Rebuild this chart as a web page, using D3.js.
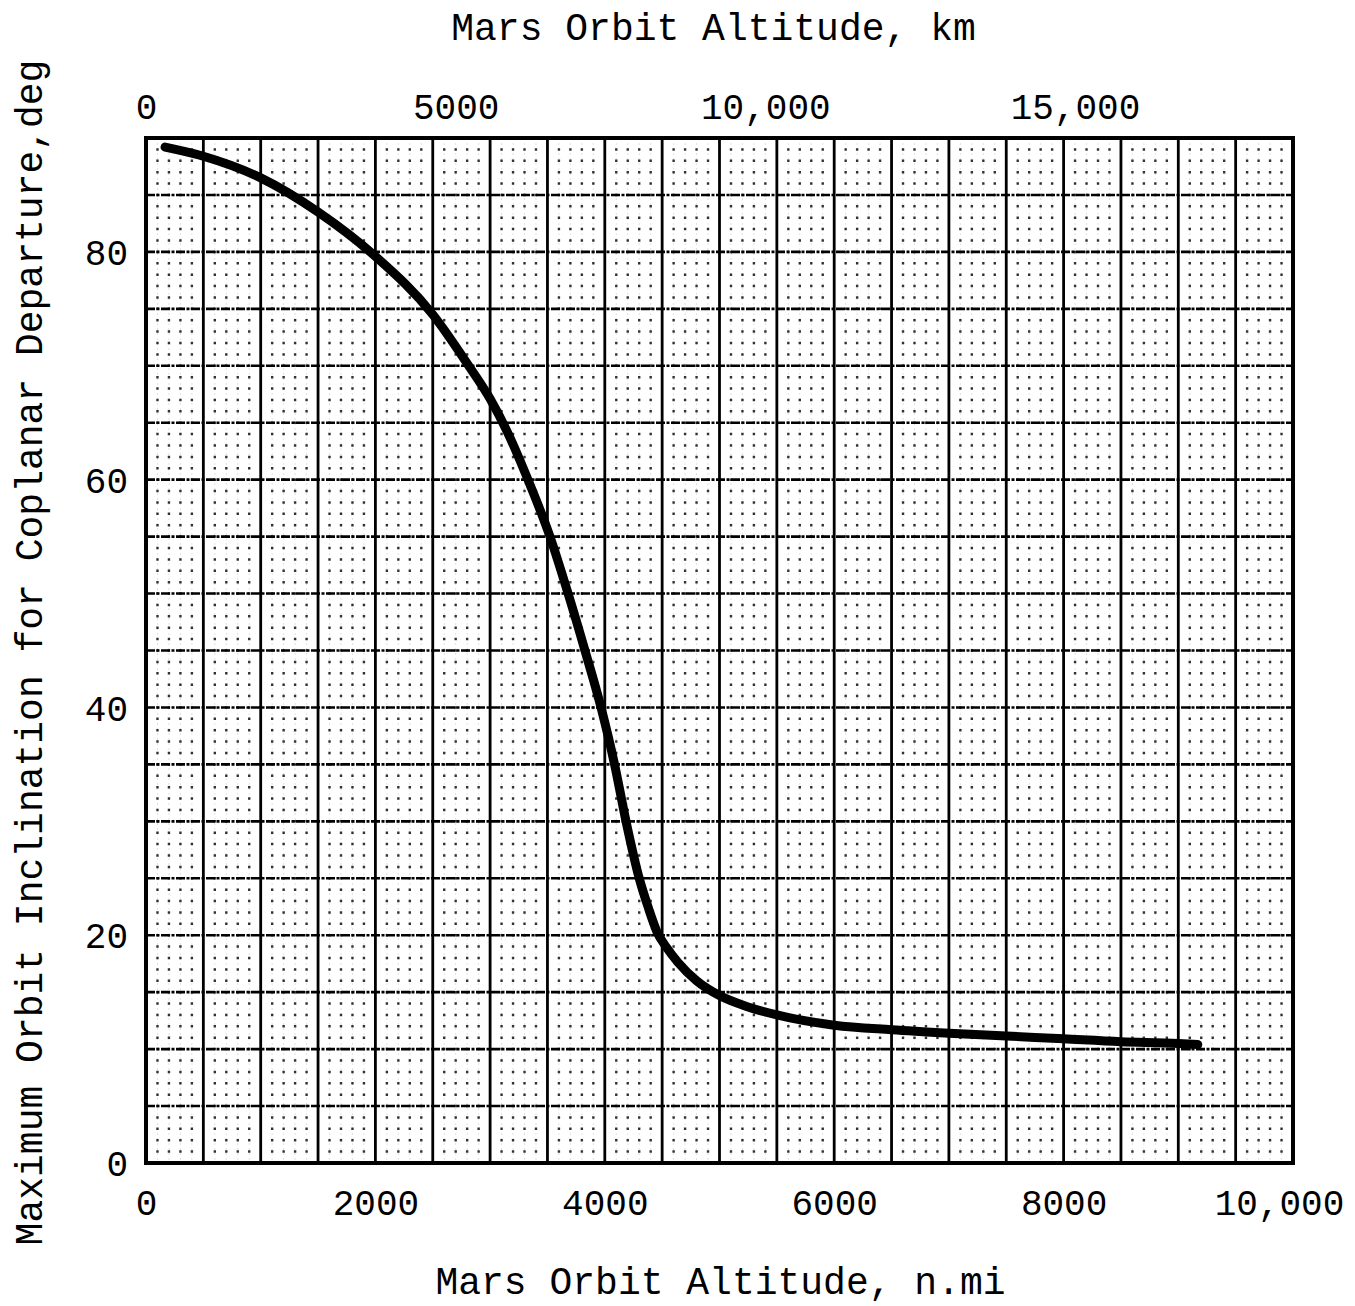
<!DOCTYPE html>
<html>
<head>
<meta charset="utf-8">
<script src="https://cdn.jsdelivr.net/npm/d3@7"></script>
<style>
  html, body { margin: 0; padding: 0; background: #fff; }
  svg { display: block; }
  text { font-family: "Liberation Mono", "DejaVu Sans Mono", monospace; fill: #000; }
</style>
</head>
<body>
<svg id="chart" width="1355" height="1306"></svg>
<script>
// Maximum orbit inclination for coplanar departure vs. Mars orbit altitude
const altitudeNmi = [166, 500, 1000, 1500, 2000, 2500, 2800, 3000, 3150, 3330, 3522, 3680,
  3827, 3967, 4085, 4185, 4300, 4380, 4455, 4540, 4640, 4800, 5000, 5250, 5500, 6000, 6500, 7000, 7500, 8000, 8500, 9000, 9170];
const inclinationDeg = [89.2, 88.4, 86.5, 83.5, 79.6, 74.5, 70.2, 67.1, 64.2, 60.0, 55.0, 50.0,
  45.0, 40.0, 35.0, 30.0, 25.0, 22.4, 20.3, 18.9, 17.6, 16.0, 14.7, 13.7, 13.0, 12.1, 11.7, 11.4, 11.15, 10.9, 10.65, 10.5, 10.4];

const bottomTicks = [0, 2000, 4000, 6000, 8000, 10000];
const bottomTickLabels = ["0", "2000", "4000", "6000", "8000", "10,000"];
const topTicksKm = [0, 5000, 10000, 15000];
const topTickLabels = ["0", "5000", "10,000", "15,000"];
const leftTicks = [0, 20, 40, 60, 80];
const leftTickLabels = ["0", "20", "40", "60", "80"];

const NMI_TO_KM = 1.852;
const xMax = 10000, yMax = 90;

const svg = d3.select("#chart");
const L = 146, R = 1293, T = 138, B = 1163;

const x = d3.scaleLinear().domain([0, xMax]).range([L, R]);
const xKm = d3.scaleLinear().domain([0, xMax * NMI_TO_KM]).range([L, R]);
const y = d3.scaleLinear().domain([0, yMax]).range([B, T]);

const grid = svg.append("g");

// fine dotted graph-paper grid: 100 n.mi by 1 deg
const fineX = d3.range(100, xMax, 100).filter(v => v % 500 !== 0);
const degStep = y(0) - y(1);
grid.selectAll("line.faint").data(fineX).join("line")
  .attr("x1", d => x(d)).attr("x2", d => x(d))
  .attr("y1", y(yMax)).attr("y2", y(0))
  .attr("stroke", "#000").attr("stroke-opacity", 0.12).attr("stroke-width", 1)
  .attr("stroke-dasharray", "2,3");
grid.selectAll("line.dots").data(fineX).join("line")
  .attr("x1", d => x(d)).attr("x2", d => x(d))
  .attr("y1", y(yMax)).attr("y2", y(0))
  .attr("stroke", "#000").attr("stroke-opacity", 0.8).attr("stroke-width", 2.4)
  .attr("stroke-dasharray", `2.5,${degStep - 2.5}`)
  .attr("stroke-dashoffset", 1.25);

// horizontal rules every 5 deg
const hLines = d3.range(5, yMax, 5);
grid.selectAll("line.h").data(hLines).join("line")
  .attr("x1", x(0)).attr("x2", x(xMax))
  .attr("y1", d => y(d)).attr("y2", d => y(d))
  .attr("stroke", "#000").attr("stroke-width", 2.6)
  .attr("stroke-dasharray", "9,1.5,3,1.5");

// vertical rules every 500 n.mi
const vLines = d3.range(500, xMax, 500);
grid.selectAll("line.v").data(vLines).join("line")
  .attr("x1", d => x(d)).attr("x2", d => x(d))
  .attr("y1", y(yMax)).attr("y2", y(0))
  .attr("stroke", "#000").attr("stroke-width", 2.8);

// frame
svg.append("rect")
  .attr("x", x(0)).attr("y", y(yMax))
  .attr("width", x(xMax) - x(0)).attr("height", y(0) - y(yMax))
  .attr("fill", "none").attr("stroke", "#000").attr("stroke-width", 4);

// curve
const pts = altitudeNmi.map((a, i) => [a, inclinationDeg[i]]);
const line = d3.line().x(d => x(d[0])).y(d => y(d[1])).curve(d3.curveMonotoneX);
svg.append("path").datum(pts)
  .attr("d", line)
  .attr("fill", "none").attr("stroke", "#000")
  .attr("stroke-width", 9).attr("stroke-linecap", "round").attr("stroke-linejoin", "round");

// bottom axis labels (n.mi)
const bottomAxis = d3.axisBottom(x).tickValues(bottomTicks)
  .tickFormat((d, i) => bottomTickLabels[i]).tickSize(0).tickPadding(0);
const gb = svg.append("g").attr("transform", `translate(0,${B})`).call(bottomAxis);
gb.select(".domain").remove();
gb.selectAll("text").attr("y", 52).attr("dy", null)
  .attr("dx", d => d === xMax ? -14 : 0)
  .style("font-size", "36px").style("font-family", "Liberation Mono, monospace");

// top axis labels (km)
const topAxis = d3.axisTop(xKm).tickValues(topTicksKm)
  .tickFormat((d, i) => topTickLabels[i]).tickSize(0).tickPadding(0);
const gt = svg.append("g").attr("transform", `translate(0,${T})`).call(topAxis);
gt.select(".domain").remove();
gt.selectAll("text").attr("y", -19).attr("dy", null)
  .style("font-size", "36px").style("font-family", "Liberation Mono, monospace");

// left axis labels (deg)
const leftAxis = d3.axisLeft(y).tickValues(leftTicks)
  .tickFormat((d, i) => leftTickLabels[i]).tickSize(0).tickPadding(0);
const gl = svg.append("g").attr("transform", `translate(${L},0)`).call(leftAxis);
gl.select(".domain").remove();
gl.selectAll("text").attr("x", -18).attr("dy", "0.35em")
  .style("font-size", "36px").style("font-family", "Liberation Mono, monospace");

// axis titles
svg.append("text").attr("x", (L + R) / 2 - 6).attr("y", 40)
  .attr("text-anchor", "middle").style("font-size", "38px")
  .text("Mars Orbit Altitude, km");
svg.append("text").attr("x", (L + R) / 2 + 1).attr("y", 1294)
  .attr("text-anchor", "middle").style("font-size", "38px")
  .text("Mars Orbit Altitude, n.mi");
svg.append("text")
  .attr("transform", `translate(42,${(T + B) / 2 + 2}) rotate(-90)`)
  .attr("text-anchor", "middle").style("font-size", "38px")
  .text("Maximum Orbit Inclination for Coplanar Departure,deg");
</script>
</body>
</html>
